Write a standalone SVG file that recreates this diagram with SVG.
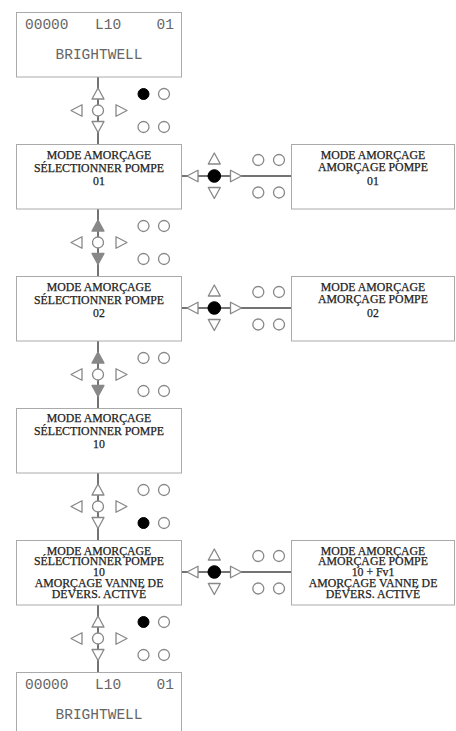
<svg xmlns="http://www.w3.org/2000/svg" xmlns:xlink="http://www.w3.org/1999/xlink" width="456" height="731" viewBox="0 0 456 731">
<style>
.box{fill:#fff;stroke:#aaa;stroke-width:1}
.ln{stroke:#444;stroke-width:1.5;fill:none}
.o{fill:#fff;stroke:#888;stroke-width:1.3;stroke-linejoin:round}
.g{fill:#888;stroke:#888;stroke-width:1.3;stroke-linejoin:round}
.k{fill:#000;stroke:#000;stroke-width:1}
.mono{font-family:"Liberation Mono","DejaVu Sans Mono",monospace;font-size:14.5px;fill:#666}
.ser{font-family:"Liberation Serif","DejaVu Serif",serif;font-size:11.8px;fill:#222;stroke:#222;stroke-width:0.25;text-anchor:middle}
</style>
<defs>
<path id="tu" d="M0,-5.5 L6,5.5 L-6,5.5 Z"/>
<path id="td" d="M0,5.5 L6,-5.5 L-6,-5.5 Z"/>
<path id="tl" d="M-5.5,0 L5.5,-5.8 L5.5,5.8 Z"/>
<path id="tr" d="M5.5,0 L-5.5,-5.8 L-5.5,5.8 Z"/>
</defs>

<g id="connectors">
<line class="ln" x1="98" y1="77" x2="98" y2="144"/>
<line class="ln" x1="98" y1="209" x2="98" y2="276"/>
<line class="ln" x1="98" y1="341" x2="98" y2="408"/>
<line class="ln" x1="98" y1="473" x2="98" y2="540"/>
<line class="ln" x1="98" y1="605" x2="98" y2="672"/>
<line class="ln" x1="181.5" y1="176" x2="291.5" y2="176"/>
<line class="ln" x1="181.5" y1="308" x2="291.5" y2="308"/>
<line class="ln" x1="181.5" y1="572" x2="291.5" y2="572"/>
</g>

<g id="nav1">
<use href="#tu" class="o" x="98" y="93.5"/>
<circle class="o" cx="98" cy="110.5" r="5.5"/>
<use href="#td" class="o" x="98" y="127"/>
<use href="#tl" class="o" x="76.5" y="110.5"/>
<use href="#tr" class="o" x="121.5" y="110.5"/>
<circle class="k" cx="143.5" cy="94" r="5.5"/>
<circle class="o" cx="164" cy="94" r="5.5"/>
<circle class="o" cx="143.5" cy="127" r="5.5"/>
<circle class="o" cx="164" cy="127" r="5.5"/>
</g>
<g id="nav2">
<use href="#tu" class="g" x="98" y="225.5"/>
<circle class="o" cx="98" cy="242.5" r="5.5"/>
<use href="#td" class="g" x="98" y="259"/>
<use href="#tl" class="o" x="76.5" y="242.5"/>
<use href="#tr" class="o" x="121.5" y="242.5"/>
<circle class="o" cx="143.5" cy="226" r="5.5"/>
<circle class="o" cx="164" cy="226" r="5.5"/>
<circle class="o" cx="143.5" cy="259" r="5.5"/>
<circle class="o" cx="164" cy="259" r="5.5"/>
</g>
<g id="nav3">
<use href="#tu" class="g" x="98" y="357.5"/>
<circle class="o" cx="98" cy="374.5" r="5.5"/>
<use href="#td" class="g" x="98" y="391"/>
<use href="#tl" class="o" x="76.5" y="374.5"/>
<use href="#tr" class="o" x="121.5" y="374.5"/>
<circle class="o" cx="143.5" cy="358" r="5.5"/>
<circle class="o" cx="164" cy="358" r="5.5"/>
<circle class="o" cx="143.5" cy="391" r="5.5"/>
<circle class="o" cx="164" cy="391" r="5.5"/>
</g>
<g id="nav4">
<use href="#tu" class="o" x="98" y="489.5"/>
<circle class="o" cx="98" cy="506.5" r="5.5"/>
<use href="#td" class="o" x="98" y="523"/>
<use href="#tl" class="o" x="76.5" y="506.5"/>
<use href="#tr" class="o" x="121.5" y="506.5"/>
<circle class="o" cx="143.5" cy="490" r="5.5"/>
<circle class="o" cx="164" cy="490" r="5.5"/>
<circle class="k" cx="143.5" cy="523" r="5.5"/>
<circle class="o" cx="164" cy="523" r="5.5"/>
</g>
<g id="nav5">
<use href="#tu" class="o" x="98" y="621.5"/>
<circle class="o" cx="98" cy="638.5" r="5.5"/>
<use href="#td" class="o" x="98" y="655"/>
<use href="#tl" class="o" x="76.5" y="638.5"/>
<use href="#tr" class="o" x="121.5" y="638.5"/>
<circle class="k" cx="143.5" cy="622" r="5.5"/>
<circle class="o" cx="164" cy="622" r="5.5"/>
<circle class="o" cx="143.5" cy="655" r="5.5"/>
<circle class="o" cx="164" cy="655" r="5.5"/>
</g>

<g id="hnav2">
<use href="#tl" class="o" x="192.5" y="176"/>
<circle class="k" cx="214.3" cy="176" r="6.3"/>
<use href="#tr" class="o" x="236" y="176"/>
<use href="#tu" class="o" x="214.3" y="158.5"/>
<use href="#td" class="o" x="214.3" y="193"/>
<circle class="o" cx="258.3" cy="160" r="5.5"/>
<circle class="o" cx="279" cy="160" r="5.5"/>
<circle class="o" cx="258.3" cy="192.5" r="5.5"/>
<circle class="o" cx="279" cy="192.5" r="5.5"/>
</g>
<g id="hnav3">
<use href="#tl" class="o" x="192.5" y="308"/>
<circle class="k" cx="214.3" cy="308" r="6.3"/>
<use href="#tr" class="o" x="236" y="308"/>
<use href="#tu" class="o" x="214.3" y="290.5"/>
<use href="#td" class="o" x="214.3" y="325"/>
<circle class="o" cx="258.3" cy="292" r="5.5"/>
<circle class="o" cx="279" cy="292" r="5.5"/>
<circle class="o" cx="258.3" cy="324.5" r="5.5"/>
<circle class="o" cx="279" cy="324.5" r="5.5"/>
</g>
<g id="hnav5">
<use href="#tl" class="o" x="192.5" y="572"/>
<circle class="k" cx="214.3" cy="572" r="6.3"/>
<use href="#tr" class="o" x="236" y="572"/>
<use href="#tu" class="o" x="214.3" y="554.5"/>
<use href="#td" class="o" x="214.3" y="589"/>
<circle class="o" cx="258.3" cy="556" r="5.5"/>
<circle class="o" cx="279" cy="556" r="5.5"/>
<circle class="o" cx="258.3" cy="588.5" r="5.5"/>
<circle class="o" cx="279" cy="588.5" r="5.5"/>
</g>

<g id="box1">
<rect class="box" x="16.5" y="12.5" width="165" height="64.5"/>
<text class="mono" x="25" y="28.5">00000</text>
<text class="mono" x="95" y="28.5">L10</text>
<text class="mono" x="174" y="28.5" text-anchor="end">01</text>
<text class="mono" x="99" y="59" text-anchor="middle">BRIGHTWELL</text>
</g>
<g id="box2">
<rect class="box" x="16.5" y="144.5" width="165" height="64.5"/>
<text class="ser" x="99" y="159">MODE AMORÇAGE</text>
<text class="ser" x="99" y="172">SÉLECTIONNER POMPE</text>
<text class="ser" x="99" y="185">01</text>
</g>
<g id="box2r">
<rect class="box" x="291.5" y="144.5" width="163" height="64.5"/>
<text class="ser" x="373" y="159">MODE AMORÇAGE</text>
<text class="ser" x="373" y="171">AMORÇAGE POMPE</text>
<text class="ser" x="373" y="185">01</text>
</g>
<g id="box3">
<rect class="box" x="16.5" y="276.5" width="165" height="64.5"/>
<text class="ser" x="99" y="291">MODE AMORÇAGE</text>
<text class="ser" x="99" y="304">SÉLECTIONNER POMPE</text>
<text class="ser" x="99" y="317">02</text>
</g>
<g id="box3r">
<rect class="box" x="291.5" y="276.5" width="163" height="64.5"/>
<text class="ser" x="373" y="291">MODE AMORÇAGE</text>
<text class="ser" x="373" y="303">AMORÇAGE POMPE</text>
<text class="ser" x="373" y="317">02</text>
</g>
<g id="box4">
<rect class="box" x="16.5" y="408.5" width="165" height="64.5"/>
<text class="ser" x="99" y="422">MODE AMORÇAGE</text>
<text class="ser" x="99" y="435">SÉLECTIONNER POMPE</text>
<text class="ser" x="99" y="448">10</text>
</g>
<g id="box5">
<rect class="box" x="16.5" y="540.5" width="165" height="64.5"/>
<text class="ser" x="99" y="554.5">MODE AMORÇAGE</text>
<text class="ser" x="99" y="565.3">SÉLECTIONNER POMPE</text>
<text class="ser" x="99" y="576">10</text>
<text class="ser" x="99" y="587">AMORÇAGE VANNE DE</text>
<text class="ser" x="99" y="597.8">DÉVERS. ACTIVÉ</text>
</g>
<g id="box5r">
<rect class="box" x="291.5" y="540.5" width="163" height="64.5"/>
<text class="ser" x="373" y="554.5">MODE AMORÇAGE</text>
<text class="ser" x="373" y="565.3">AMORÇAGE POMPE</text>
<text class="ser" x="373" y="576">10 + Fv1</text>
<text class="ser" x="373" y="587">AMORÇAGE VANNE DE</text>
<text class="ser" x="373" y="597.8">DÉVERS. ACTIVÉ</text>
</g>
<g id="box6">
<rect class="box" x="16.5" y="672.5" width="165" height="64.5"/>
<text class="mono" x="25" y="688.5">00000</text>
<text class="mono" x="95" y="688.5">L10</text>
<text class="mono" x="174" y="688.5" text-anchor="end">01</text>
<text class="mono" x="99" y="719" text-anchor="middle">BRIGHTWELL</text>
</g>
</svg>
